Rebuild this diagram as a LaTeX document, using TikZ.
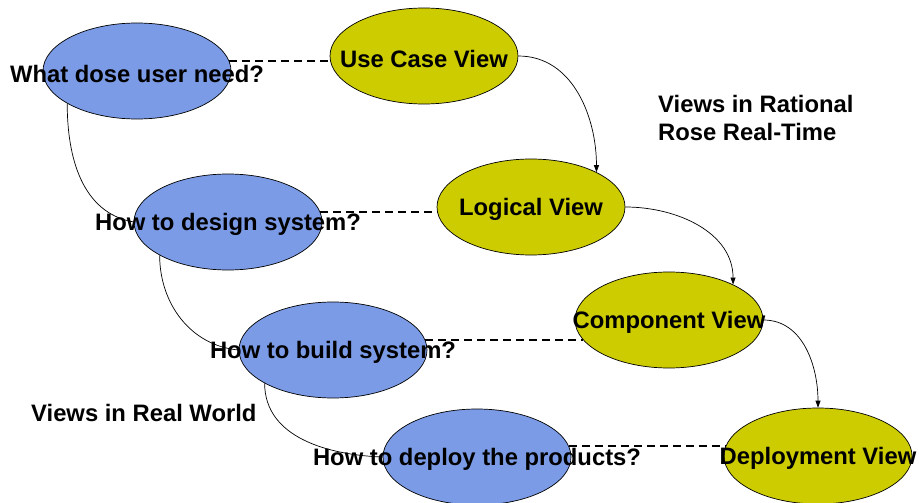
\documentclass[tikz,border=0pt]{standalone}
\usepackage{fontspec}
\setmainfont{Liberation Sans}
\usepackage{tikz}
\usetikzlibrary{shapes.geometric,arrows.meta}

\definecolor{qblue}{RGB}{123,155,230}
\definecolor{vyellow}{RGB}{204,204,0}

\begin{document}
\begin{tikzpicture}[x=1pt,y=-1pt,
		oval/.style={ellipse,draw=black,line width=.7pt,minimum width=188pt,minimum height=96pt,inner sep=0pt},
		realq/.style={oval,fill=qblue},
		roseview/.style={oval,fill=vyellow},
		txt/.style={font=\fontsize{23.8}{28}\selectfont\bfseries,inner sep=0pt},
		intxt/.style={txt,yshift=-2.5pt},
		pair/.style={dashed,dash pattern=on 8pt off 5pt,line width=1.6pt},
		flow/.style={line width=.7pt,-{Triangle[length=7pt,width=5pt]}},
		chain/.style={line width=.7pt}]
			\useasboundingbox (0,0) rectangle (919,503);
			% real world
			\node[realq] (need) at (137,71) {};
			\node[realq] (design) at (228,222) {};
			\node[realq] (build) at (333,350) {};
			\node[realq] (deploy) at (477,457) {};
			% rational rose views
			\node[roseview] (usecase) at (424,56) {};
			\node[roseview] (logical) at (531,207) {};
			\node[roseview] (component) at (669,320) {};
			\node[roseview] (deployment) at (818,456) {};
			% dashed pairs
			\draw[pair] (need.6) -- (need.6 -| usecase.186);
			\draw[pair] (design.6) -- (design.6 -| logical.184);
			\draw[pair] (build.6) -- (build.6 -| component.193);
			\draw[pair] (deploy.7) -- (deploy.7 -| deployment.174);
			% arrows
			\draw[flow] (usecase.east) to[out=0,in=90] (logical.28);
			\draw[flow] (logical.east) to[out=0,in=90] (component.29);
			\draw[flow] (component.east) to[out=0,in=90] (deployment.north);
			\draw[chain] (need.205) to[out=-90,in=170] (design.west);
			\draw[chain] (design.206) to[out=-90,in=175] (build.west);
			\draw[chain] (build.206) to[out=-90,in=178] (deploy.west);
			% labels
			\node[intxt] (needtxt) at (need) {What dose user need?};
			\node[intxt] (designtxt) at (design) {How to design system?};
			\node[intxt] (buildtxt) at (build) {How to build system?};
			\node[intxt] (deploytxt) at (deploy) {How to deploy the products?};
			\node[intxt] (usecasetxt) at (usecase) {Use Case View};
			\node[intxt] (logicaltxt) at (logical) {Logical View};
			\node[intxt] (componenttxt) at (component) {Component View};
			\node[intxt] (deploymenttxt) at (deployment) {Deployment View};
			\node[txt,anchor=west,align=left] (rosetitle) at (658,118) {Views in Rational\\Rose Real-Time};
			\node[txt,anchor=west] (realtitle) at (31,413) {Views in Real World};
		\end{tikzpicture}
\end{document}
